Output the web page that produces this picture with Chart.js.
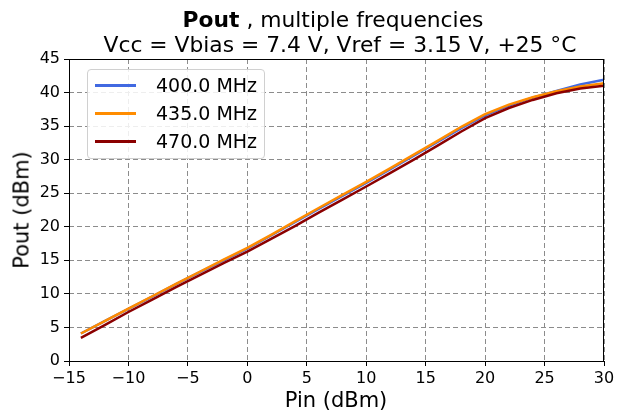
<!DOCTYPE html>
<html>
<head>
<meta charset="utf-8">
<script src="https://cdn.jsdelivr.net/npm/chart.js@4.4.1/dist/chart.umd.min.js"></script>
<style>
  body { margin: 0; background: #fff; }
  #wrap { position: relative; width: 630px; height: 416px; font-family: "DejaVu Sans", sans-serif; color: #000; }
  #chart { position: absolute; left: 0; top: 0; }
  .txt { position: absolute; white-space: nowrap; line-height: 1; }
  .title { font-size: 21.8px; width: 630px; text-align: center; }
  #legend { position: absolute; left: 87px; top: 69px; width: 176px; height: 88px;
    border: 1px solid #d0d0d0; border-radius: 4px; background: rgba(255,255,255,0.85); }
  .leg-row { position: absolute; left: 0; height: 20px; }
  .leg-line { position: absolute; left: 7px; width: 41px; height: 3px; top: 9px; }
  .leg-text { position: absolute; left: 68px; top: 0; font-size: 19px; line-height: 20px; white-space: nowrap; }
</style>
</head>
<body>
<div id="wrap">
  <canvas id="chart" width="630" height="416"></canvas>
  <div class="txt title" style="left:18px; top:9px;"><b>Pout</b> , multiple frequencies</div>
  <div class="txt title" style="left:25px; top:34px;">Vcc = Vbias = 7.4 V, Vref = 3.15 V, +25 °C</div>
  <div class="txt" style="left:336px; top:390px; font-size:21px; transform:translateX(-50%);">Pin (dBm)</div>
  <div class="txt" style="left:22px; top:210px; font-size:21px; transform:translate(-50%,-50%) rotate(-90deg);">Pout (dBm)</div>
  <div id="legend"></div>
</div>
<script>
// Pin sweep (dBm)
const pinValues = [-14, -12, -10, -8, -6, -4, -2, 0, 2, 4, 6, 8, 10, 12, 14, 16, 18, 20, 22, 24, 26, 28, 30];

// Pout (dBm) per frequency
const pout400 = [4.1, 5.95, 7.75, 9.6, 11.45, 13.25, 15.0, 16.75, 18.7, 20.7, 22.65, 24.6, 26.55, 28.55, 30.6, 32.65, 34.7, 36.6, 38.05, 39.25, 40.25, 41.2, 41.9];
const pout435 = [4.1, 5.95, 7.8, 9.65, 11.5, 13.3, 15.1, 16.85, 18.8, 20.8, 22.8, 24.75, 26.7, 28.7, 30.75, 32.8, 34.9, 36.8, 38.2, 39.3, 40.2, 40.9, 41.4];
const pout470 = [3.45, 5.35, 7.3, 9.15, 11.0, 12.8, 14.6, 16.3, 18.2, 20.1, 22.1, 24.05, 26.0, 28.0, 30.0, 32.1, 34.2, 36.2, 37.7, 38.9, 39.9, 40.6, 41.0];

const seriesLabels = ["400.0 MHz", "435.0 MHz", "470.0 MHz"];
const seriesColors = ["#4169e1", "#ff8c00", "#8b0000"];
const seriesData = [pout400, pout435, pout470];

const xTicks = [-15, -10, -5, 0, 5, 10, 15, 20, 25, 30];
const yTicks = [0, 5, 10, 15, 20, 25, 30, 35, 40, 45];

function toPoints(ys) {
  return pinValues.map((x, i) => ({ x: x, y: ys[i] }));
}

function fmt(v) {
  return v < 0 ? "\u2212" + Math.abs(v) : String(v);
}

// black box around the plot area, like matplotlib spines
const framePlugin = {
  id: "frame",
  afterDatasetsDraw(chart) {
    const a = chart.chartArea;
    const ctx = chart.ctx;
    ctx.save();
    ctx.strokeStyle = "#000";
    ctx.lineWidth = 1;
    ctx.strokeRect(Math.round(a.left) + 0.5, Math.round(a.top) + 0.5,
      Math.round(a.right - a.left) - 1, Math.round(a.bottom - a.top));
    ctx.restore();
  }
};

const tickFont = { family: "DejaVu Sans", size: 16 };
const gridOpts = { color: "#8c8c8c", lineWidth: 1, tickLength: 5,
                   tickColor: "#000", tickBorderDash: [], tickWidth: 1 };

const chart = new Chart(document.getElementById("chart"), {
  type: "line",
  data: {
    datasets: seriesData.map((ys, i) => ({
      label: seriesLabels[i],
      data: toPoints(ys),
      borderColor: seriesColors[i],
      backgroundColor: seriesColors[i],
      borderWidth: 2.5,
      pointRadius: 0,
      tension: 0,
      fill: false,
      order: 3 - i
    }))
  },
  options: {
    responsive: false,
    animation: false,
    devicePixelRatio: 1,
    layout: { padding: { left: 0, right: 26, top: 59, bottom: 0 } },
    plugins: { legend: { display: false }, tooltip: { enabled: false }, title: { display: false } },
    scales: {
      x: {
        type: "linear",
        min: -15, max: 30,
        afterFit: s => { s.height = 55; },
        afterBuildTicks: s => { s.ticks = xTicks.map(v => ({ value: v })); },
        ticks: { font: tickFont, color: "#000", padding: 3, maxRotation: 0, callback: fmt },
        grid: gridOpts,
        border: { display: false, dash: [5, 3] }
      },
      y: {
        type: "linear",
        min: 0, max: 45,
        afterFit: s => { s.width = 69; },
        afterBuildTicks: s => { s.ticks = yTicks.map(v => ({ value: v })); },
        ticks: { font: tickFont, color: "#000", padding: 4, callback: fmt },
        grid: gridOpts,
        border: { display: false, dash: [5, 3] }
      }
    }
  },
  plugins: [framePlugin]
});

// legend drawn as html, placed like the matplotlib one
const legendEl = document.getElementById("legend");
seriesLabels.forEach((lab, i) => {
  const row = document.createElement("div");
  row.className = "leg-row";
  row.style.top = (5 + i * 28) + "px";
  row.innerHTML = `<div class="leg-line" style="background:${seriesColors[i]}"></div><div class="leg-text">${lab}</div>`;
  legendEl.appendChild(row);
});
</script>
</body>
</html>
